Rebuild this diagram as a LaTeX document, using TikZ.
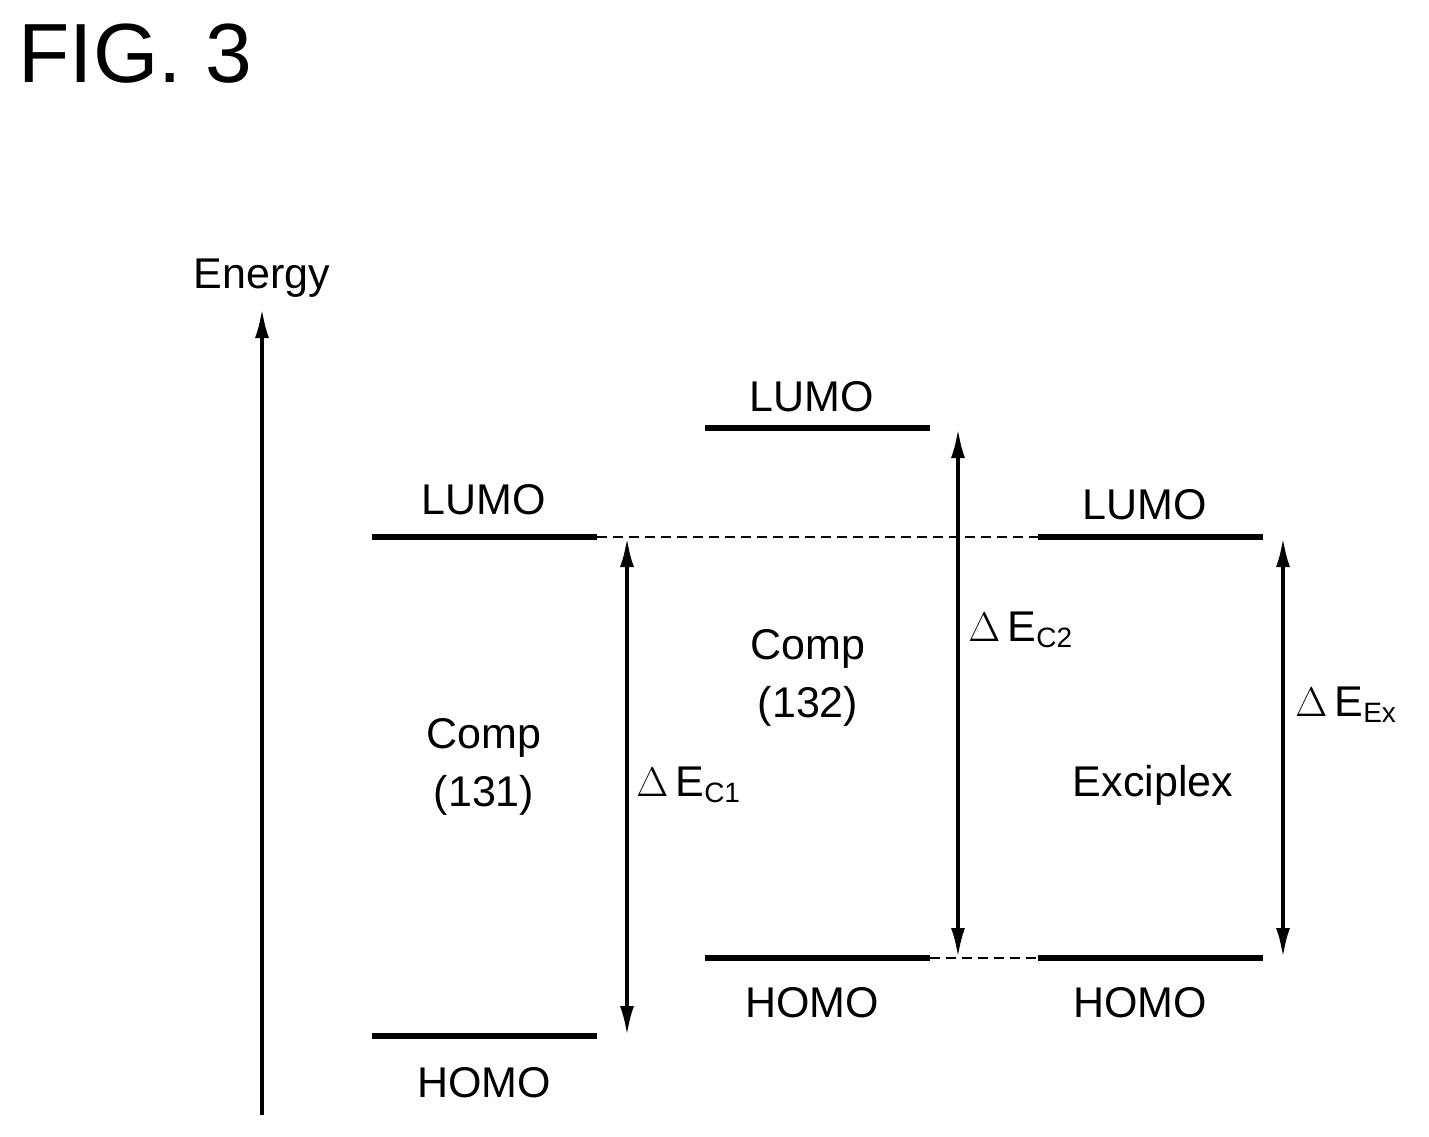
\documentclass[tikz,border=0pt]{standalone}
\usepackage{fontspec}
\setmainfont{Liberation Sans}
\usetikzlibrary{arrows.meta}
\begin{document}
\begin{tikzpicture}[x=0.5pt,y=-0.5pt,
  lvl/.style={line width=3pt},
  dbl/.style={line width=2pt,{Latex[length=15pt,width=7pt]}-{Latex[length=15pt,width=7pt]}},
  dsh/.style={line width=0.6pt,dash pattern=on 5pt off 3pt},
  lab/.style={font=\fontsize{21.5}{25}\selectfont,inner sep=0pt}]
\useasboundingbox (0,0) rectangle (1429,1136);
\node[font=\fontsize{42}{48}\selectfont,anchor=west,inner sep=0pt] (fig) at (18,54) {FIG. 3};
\coordinate (ab) at (262,1115); \coordinate (at) at (262,308);
\draw[line width=2pt,-{Latex[length=15pt,width=7pt]}] (ab) -- (at);
\node[lab] (en) at (262,278) {Energy};
% levels
\coordinate (l1a) at (372,537); \coordinate (l1b) at (597,537);
\coordinate (h1a) at (372,1036); \coordinate (h1b) at (597,1036);
\coordinate (l2a) at (705,428); \coordinate (l2b) at (930,428);
\coordinate (h2a) at (705,958); \coordinate (h2b) at (930,958);
\coordinate (l3a) at (1038,537); \coordinate (l3b) at (1263,537);
\coordinate (h3a) at (1038,958); \coordinate (h3b) at (1263,958);
\draw[lvl] (l1a)--(l1b); \draw[lvl] (h1a)--(h1b);
\draw[lvl] (l2a)--(l2b); \draw[lvl] (h2a)--(h2b);
\draw[lvl] (l3a)--(l3b); \draw[lvl] (h3a)--(h3b);
\draw[dsh] (l1b)--(l3a); \draw[dsh] (h2b)--(h3a);
\node[lab] (t1) at (484,500) {LUMO}; \node[lab] (b1) at (484,1083) {HOMO};
\node[lab] (t2) at (812,397) {LUMO}; \node[lab] (b2) at (812,1003) {HOMO};
\node[lab] (t3) at (1145,505) {LUMO}; \node[lab] (b3) at (1140,1003) {HOMO};
% arrows
\coordinate (a1t) at (627,537); \coordinate (a1b) at (627,1036);
\coordinate (a2t) at (958,428); \coordinate (a2b) at (958,958);
\coordinate (a3t) at (1283,537); \coordinate (a3b) at (1283,958);
\draw[dbl] (a1t)--(a1b); \draw[dbl] (a2t)--(a2b); \draw[dbl] (a3t)--(a3b);
\node[lab,align=center] (c1) at (484,767) {Comp\\[4pt](131)};
\node[lab,align=center] (c2) at (808,678) {Comp\\[4pt](132)};
\node[lab] (ex) at (1153,785) {Exciplex};
\node[lab,anchor=west] (e1) at (636,785) {$\Delta$\,E\textsubscript{\fontsize{14}{15}\selectfont C1}};
\node[lab,anchor=west] (e2) at (968,630) {$\Delta$\,E\textsubscript{\fontsize{14}{15}\selectfont C2}};
\node[lab,anchor=west] (e3) at (1295,705) {$\Delta$\,E\textsubscript{\fontsize{14}{15}\selectfont Ex}};
\end{tikzpicture}
\end{document}
